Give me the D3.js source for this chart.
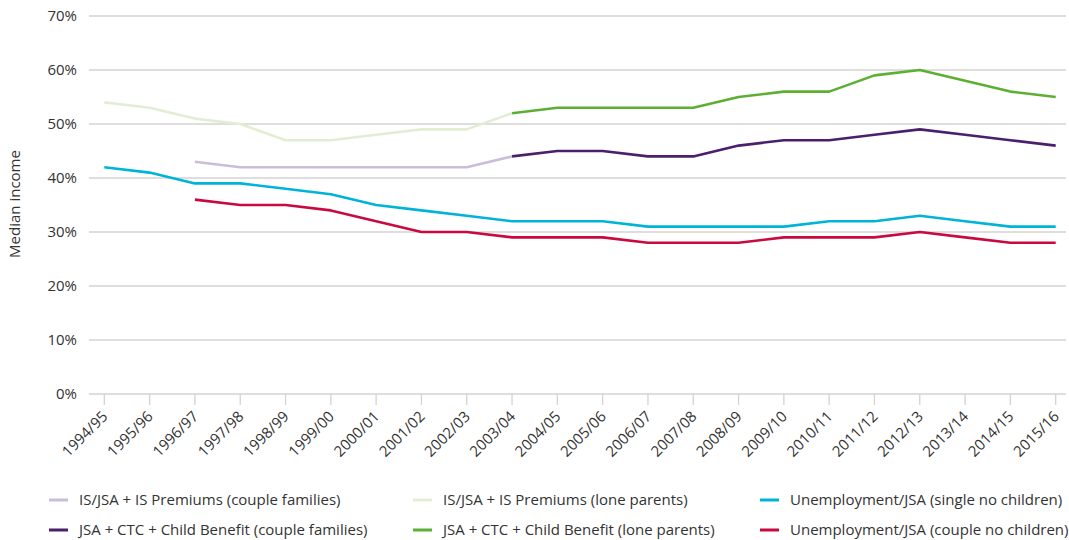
<!DOCTYPE html>
<html>
<head>
<meta charset="utf-8">
<script src="https://cdn.jsdelivr.net/npm/d3@7"></script>
<style>
  body { margin: 0; background: #fff; }
  svg { display: block; font-family: "Open Sans", Lato, sans-serif; }
</style>
</head>
<body>
<svg id="chart" width="1069" height="540"></svg>
<script>
const years = ["1994/95","1995/96","1996/97","1997/98","1998/99","1999/00","2000/01","2001/02","2002/03","2003/04","2004/05","2005/06","2006/07","2007/08","2008/09","2009/10","2010/11","2011/12","2012/13","2013/14","2014/15","2015/16"];
const yTicks = [0, 10, 20, 30, 40, 50, 60, 70];

// values in %, null = no data
const isCouple   = [null,null,43,42,42,42,42,42,42,44,null,null,null,null,null,null,null,null,null,null,null,null];
const isLone     = [54,53,51,50,47,47,48,49,49,52,null,null,null,null,null,null,null,null,null,null,null,null];
const jsaSingle  = [42,41,39,39,38,37,35,34,33,32,32,32,31,31,31,31,32,32,33,32,31,31];
const ctcCouple  = [null,null,null,null,null,null,null,null,null,44,45,45,44,44,46,47,47,48,49,48,47,46];
const ctcLone    = [null,null,null,null,null,null,null,null,null,52,53,53,53,53,55,56,56,59,60,58,56,55];
const jsaCouple  = [null,null,36,35,35,34,32,30,30,29,29,29,28,28,28,29,29,29,30,29,28,28];

const seriesNames = [
  "IS/JSA + IS Premiums (couple families)",
  "IS/JSA + IS Premiums (lone parents)",
  "Unemployment/JSA (single no children)",
  "JSA + CTC + Child Benefit (couple families)",
  "JSA + CTC + Child Benefit (lone parents)",
  "Unemployment/JSA (couple no children)"
];
const seriesValues = [isCouple, isLone, jsaSingle, ctcCouple, ctcLone, jsaCouple];
const seriesColors = ["#cbbdd9", "#e2eed4", "#00b4d8", "#4b1f6b", "#5bb033", "#c80a40"];

const svg = d3.select("#chart");
const x = d3.scalePoint().domain(years).range([104.3, 1055.7]);
const y = d3.scaleLinear().domain([0, 70]).range([394, 16]);
const gridLeft = 89, gridRight = 1066;

// gridlines
svg.append("g").selectAll("line").data(yTicks).join("line")
  .attr("x1", gridLeft).attr("x2", gridRight)
  .attr("y1", d => y(d)).attr("y2", d => y(d))
  .attr("stroke", "#d3d3d3").attr("stroke-width", 1.3);

// y labels
svg.append("g").selectAll("text").data(yTicks).join("text")
  .attr("x", 77).attr("y", d => y(d)).attr("dy", "0.35em")
  .attr("text-anchor", "end").attr("font-size", 15).attr("fill", "#333")
  .text(d => d + "%");

// y title
svg.append("text")
  .attr("transform", "translate(20,204) rotate(-90)")
  .attr("text-anchor", "middle").attr("font-size", 15).attr("fill", "#333")
  .text("Median income");

// x ticks
svg.append("g").selectAll("line").data(years).join("line")
  .attr("x1", d => x(d)).attr("x2", d => x(d))
  .attr("y1", 394).attr("y2", 405)
  .attr("stroke", "#d3d3d3").attr("stroke-width", 1.3);

svg.append("g").selectAll("text").data(years).join("text")
  .attr("transform", d => `translate(${x(d) + 4.3},${417.4}) rotate(-45)`)
  .attr("text-anchor", "end")
  .attr("font-size", 15).attr("fill", "#333")
  .text(d => d);

// lines
const line = d3.line()
  .defined(d => d != null)
  .x((d, i) => x(years[i]))
  .y(d => y(d));

seriesValues.forEach((vals, k) => {
  svg.append("path")
    .datum(vals)
    .attr("fill", "none")
    .attr("stroke", seriesColors[k])
    .attr("stroke-width", 2.6)
    .attr("stroke-linejoin", "round")
    .attr("d", line);
});

// legend
const legCols = [49, 413, 760];
const legRows = [500, 530];
seriesNames.forEach((name, k) => {
  const cx = legCols[k % 3], cy = legRows[Math.floor(k / 3)];
  svg.append("line")
    .attr("x1", cx).attr("x2", cx + 19).attr("y1", cy).attr("y2", cy)
    .attr("stroke", seriesColors[k]).attr("stroke-width", 3);
  svg.append("text")
    .attr("x", cx + 30).attr("y", cy).attr("dy", "0.35em")
    .attr("font-size", 15).attr("fill", "#333")
    .text(name);
});
</script>
</body>
</html>
